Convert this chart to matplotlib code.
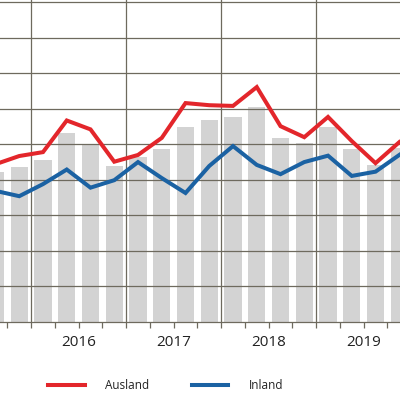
import matplotlib
matplotlib.use("Agg")
import matplotlib.pyplot as plt
from matplotlib.transforms import blended_transform_factory

plt.rcParams["font.family"] = ["Open Sans", "DejaVu Sans"]

# quarters 2015 Q3 .. 2019 Q4 (index 0 = 2016 Q1)
quarters = list(range(-2, 16))
years = [2015, 2016, 2017, 2018, 2019]

# grey bars (total), red line (Ausland), blue line (Inland)
total   = [42.2, 43.6, 45.6, 53.2, 50.2, 43.9, 46.4, 48.7, 54.9, 56.8,
           57.7, 60.5, 51.8, 50.4, 54.9, 48.7, 44.2, 48.9]
ausland = [44.4, 46.7, 47.8, 56.7, 54.2, 45.1, 47.0, 51.8, 61.6, 61.0,
           60.8, 66.1, 55.1, 52.0, 57.7, 50.9, 44.7, 50.6]
inland  = [36.9, 35.4, 38.8, 42.9, 37.8, 39.9, 45.0, 40.5, 36.3, 43.9,
           49.5, 44.2, 41.6, 45.0, 46.8, 41.1, 42.3, 47.0]

grid_col = "#6e6a5e"
red = "#e3262b"
blue = "#1b62a3"

fig = plt.figure(figsize=(4.0, 3.95), dpi=100)
ax = fig.add_axes([0, 0.1848, 1, 0.8152])

ax.bar(quarters, total, width=0.72, color="#d3d3d3", zorder=1)

# horizontal grid
for v in range(10, 100, 10):
    ax.axhline(v, color=grid_col, lw=0.9, zorder=2)
# year separators
for y in years:
    q0 = (y - 2016) * 4 - 0.5
    ax.axvline(q0, color=grid_col, lw=0.9, zorder=2)

ax.plot(quarters, ausland, color=red, lw=2.9, zorder=3, label="Ausland",
        solid_joinstyle="miter")
ax.plot(quarters, inland, color=blue, lw=2.9, zorder=3, label="Inland",
        solid_joinstyle="miter")

ax.set_xlim(-1.81, 15.03)
ax.set_ylim(0, 90.6)

for s in ["top", "left", "right"]:
    ax.spines[s].set_visible(False)
ax.spines["bottom"].set_color(grid_col)
ax.spines["bottom"].set_linewidth(0.9)

ax.set_yticks([])
ax.set_xticks([q + 0.5 for q in quarters[:-1]])
ax.set_xticklabels([])
ax.tick_params(axis="x", direction="out", length=4.5, width=0.9, color=grid_col)

trans = blended_transform_factory(ax.transData, fig.transFigure)
for y in years:
    xc = (y - 2016) * 4 + 1.5
    ax.text(xc, 1 - 342 / 395, str(y), transform=trans, ha="center", va="center",
            fontsize=11, color="#222222", clip_on=False)

fig.legend(loc="center left", bbox_to_anchor=(48 / 400, 1 - 385.5 / 395), ncol=2,
           frameon=False, fontsize=8.5, handlelength=3.1, handletextpad=1.75,
           columnspacing=3.6, borderaxespad=0, borderpad=0, labelcolor="#222222")

fig.savefig("out.png", dpi=100)
